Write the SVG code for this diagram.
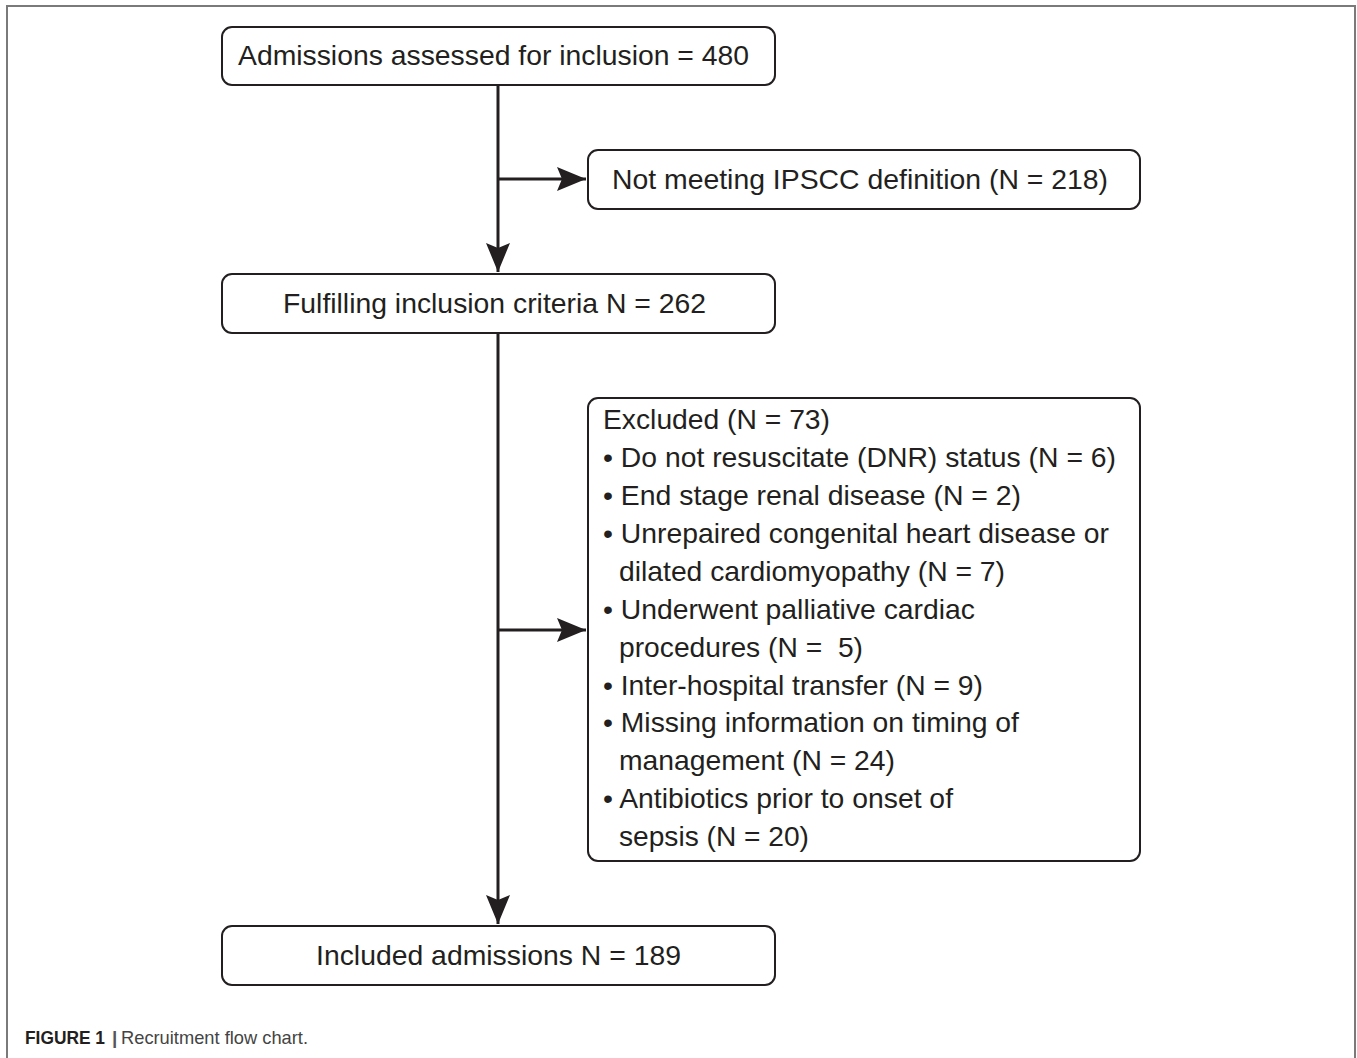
<svg xmlns="http://www.w3.org/2000/svg" width="1357" height="1058" viewBox="0 0 1357 1058">
<defs>
<style>
.box{fill:#fff;stroke:#231f20;stroke-width:2}
.t{font-family:"Liberation Sans",Arial,sans-serif;font-size:28px;fill:#231f20}
.conn{stroke:#231f20;stroke-width:3;fill:none}
.cap{font-family:"Liberation Sans",Arial,sans-serif;font-size:19px}
</style>
<marker id="arr" markerUnits="userSpaceOnUse" markerWidth="30" markerHeight="26" refX="29" refY="12" orient="auto">
<path d="M0,0 L29,12 L0,24 L5,12 z" fill="#231f20"/>
</marker>
</defs>
<rect x="0" y="0" width="1357" height="1058" fill="#fff"/>
<path d="M7,1058 L7,6 L1355,6 L1355,1058" fill="none" stroke="#7a7a7a" stroke-width="2"/>
<g id="connectors">
<line class="conn" x1="498" y1="85" x2="498" y2="272" marker-end="url(#arr)"/>
<line class="conn" x1="498" y1="179" x2="586" y2="179" marker-end="url(#arr)"/>
<line class="conn" x1="498" y1="333" x2="498" y2="924" marker-end="url(#arr)"/>
<line class="conn" x1="498" y1="630" x2="586" y2="630" marker-end="url(#arr)"/>
</g>
<g id="n1">
<rect class="box" x="222" y="27" width="553" height="58" rx="10"/>
<text class="t" x="238" y="65" textLength="511" lengthAdjust="spacingAndGlyphs">Admissions assessed for inclusion = 480</text>
</g>
<g id="n2">
<rect class="box" x="588" y="150" width="552" height="59" rx="10"/>
<text class="t" x="612" y="189" textLength="496" lengthAdjust="spacingAndGlyphs">Not meeting IPSCC definition (N = 218)</text>
</g>
<g id="n3">
<rect class="box" x="222" y="274" width="553" height="59" rx="10"/>
<text class="t" x="283" y="313" textLength="423" lengthAdjust="spacingAndGlyphs">Fulfilling inclusion criteria N = 262</text>
</g>
<g id="n4">
<rect class="box" x="588" y="398" width="552" height="463" rx="10"/>
<text class="t" x="603" y="429" textLength="227" lengthAdjust="spacingAndGlyphs">Excluded (N = 73)</text>
<text class="t" x="603" y="467" textLength="513" lengthAdjust="spacingAndGlyphs">• Do not resuscitate (DNR) status (N = 6)</text>
<text class="t" x="603" y="505" textLength="418" lengthAdjust="spacingAndGlyphs">• End stage renal disease (N = 2)</text>
<text class="t" x="603" y="543" textLength="506" lengthAdjust="spacingAndGlyphs">• Unrepaired congenital heart disease or</text>
<text class="t" x="619" y="581" textLength="386" lengthAdjust="spacingAndGlyphs">dilated cardiomyopathy (N = 7)</text>
<text class="t" x="603" y="619" textLength="372" lengthAdjust="spacingAndGlyphs">• Underwent palliative cardiac</text>
<text class="t" x="619" y="657" textLength="244" lengthAdjust="spacingAndGlyphs" xml:space="preserve">procedures (N =  5)</text>
<text class="t" x="603" y="695" textLength="380" lengthAdjust="spacingAndGlyphs">• Inter-hospital transfer (N = 9)</text>
<text class="t" x="603" y="732" textLength="416" lengthAdjust="spacingAndGlyphs">• Missing information on timing of</text>
<text class="t" x="619" y="770" textLength="276" lengthAdjust="spacingAndGlyphs">management (N = 24)</text>
<text class="t" x="603" y="808" textLength="350" lengthAdjust="spacingAndGlyphs">• Antibiotics prior to onset of</text>
<text class="t" x="619" y="846" textLength="190" lengthAdjust="spacingAndGlyphs">sepsis (N = 20)</text>
</g>
<g id="n5">
<rect class="box" x="222" y="926" width="553" height="59" rx="10"/>
<text class="t" x="316" y="965" textLength="365" lengthAdjust="spacingAndGlyphs">Included admissions N = 189</text>
</g>
<g id="caption">
<text class="cap" x="25" y="1044" font-weight="bold" fill="#231f20" textLength="80" lengthAdjust="spacingAndGlyphs">FIGURE 1</text>
<text class="cap" x="112" y="1044" font-weight="bold" fill="#555">|</text>
<text class="cap" x="121" y="1044" fill="#444" textLength="187" lengthAdjust="spacingAndGlyphs">Recruitment flow chart.</text>
</g>
</svg>
